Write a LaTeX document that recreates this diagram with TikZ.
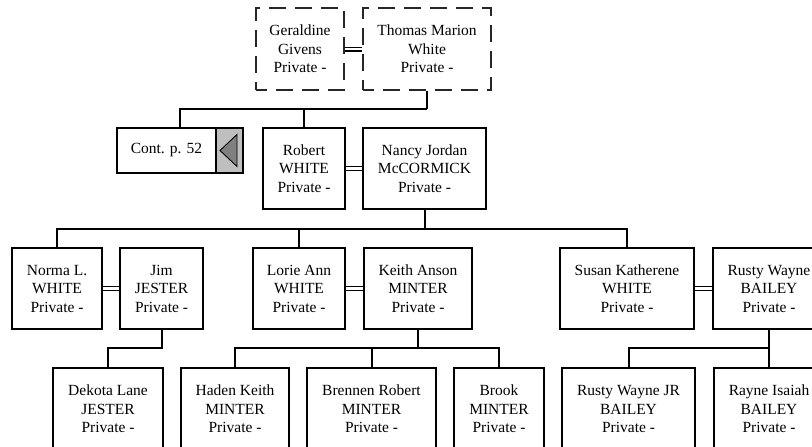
\documentclass[tikz,border=0pt]{standalone}
\usepackage{fontspec}
\setmainfont{Liberation Serif}
\begin{document}
\begin{tikzpicture}[x=1pt,y=-1pt,
  box/.style={draw, line width=2pt, fill=white, align=center, inner sep=0pt,
    font=\fontsize{15.5}{18.5}\selectfont},
  dbox/.style={box, line width=1.3pt, draw=black!85, dash pattern=on 17pt off 9pt, dash phase=6pt},
  conn/.style={line width=2pt},
  dbl/.style={double, double distance=2.2pt, line width=1.4pt}]
\useasboundingbox (0,0) rectangle (812,447);
\begin{scope}
\clip (0,0) rectangle (812,447);
% generation 1
\node[dbox, minimum width=88, minimum height=82] (ger) at (300,49) {Geraldine\\Givens\\Private -};
\node[dbox, minimum width=128, minimum height=82] (tho) at (427,49) {Thomas Marion\\White\\Private -};
% generation 2
\node[box, minimum width=126, minimum height=45] (cont) at (180,150.5) {Cont. p. 52\hspace*{27pt}};
\node[box, minimum width=82, minimum height=81] (rob) at (304,168.5) {Robert\\WHITE\\Private -};
\node[box, minimum width=123, minimum height=81] (nan) at (424.5,168.5) {Nancy Jordan\\McCORMICK\\Private -};
% generation 3
\node[box, minimum width=90, minimum height=81] (nor) at (57,288.5) {Norma L.\\WHITE\\Private -};
\node[box, minimum width=83, minimum height=81] (jim) at (161.5,288.5) {Jim\\JESTER\\Private -};
\node[box, minimum width=92, minimum height=81] (lor) at (299,288.5) {Lorie Ann\\WHITE\\Private -};
\node[box, minimum width=108, minimum height=81] (kei) at (418,288.5) {Keith Anson\\MINTER\\Private -};
\node[box, minimum width=134, minimum height=81] (sus) at (627,288.5) {Susan Katherene\\WHITE\\Private -};
\node[box, minimum width=112, minimum height=81] (rus) at (769,288.5) {Rusty Wayne\\BAILEY\\Private -};
% generation 4
\node[box, minimum width=110, minimum height=82] (dek) at (108,409) {Dekota Lane\\JESTER\\Private -};
\node[box, minimum width=108, minimum height=82] (had) at (235,409) {Haden Keith\\MINTER\\Private -};
\node[box, minimum width=129, minimum height=82] (bre) at (371.5,409) {Brennen Robert\\MINTER\\Private -};
\node[box, minimum width=90, minimum height=82] (bro) at (499,409) {Brook\\MINTER\\Private -};
\node[box, minimum width=133, minimum height=82] (rjr) at (628.5,409) {Rusty Wayne JR\\BAILEY\\Private -};
\node[box, minimum width=110, minimum height=82] (ray) at (769,409) {Rayne Isaiah\\BAILEY\\Private -};
% continuation button
\fill[black!25] ([shift={(-28pt,-1pt)}]cont.north east) rectangle ([shift={(-1pt,1pt)}]cont.south east);
\draw[line width=1.2pt] ([shift={(-28pt,-1pt)}]cont.north east) -- ([shift={(-28pt,1pt)}]cont.south east);
\draw[line width=2pt] ([shift={(1pt,-1pt)}]cont.north west) rectangle ([shift={(-1pt,1pt)}]cont.south east);
\path[fill=black!50, draw, line width=0.9pt] ([xshift=-24pt]cont.east) -- ([xshift=-7pt,yshift=16pt]cont.east) -- ([xshift=-7pt,yshift=-16pt]cont.east) -- cycle;
% marriages
\draw[dbl] (ger.east) -- (tho.west);
\draw[dbl] (rob.east) -- (nan.west);
\draw[dbl] (nor.east) -- (jim.west);
\draw[dbl] (lor.east) -- (kei.west);
\draw[dbl] (sus.east) -- (rus.west);
% descent lines
\coordinate (b1) at (0,109);
\coordinate (b2) at (0,229);
\coordinate (b3) at (0,348);
\draw[conn] (tho.south) -- (tho.south |- b1);
\draw[conn] (cont.north) |- (tho.south |- b1);
\draw[conn] (rob.north) -- (rob.north |- b1);
\draw[conn] (nan.south) -- (nan.south |- b2);
\draw[conn] (nor.north) |- (sus.north |- b2) -- (sus.north);
\draw[conn] (lor.north) -- (lor.north |- b2);
\draw[conn] (jim.south) |- (dek.north |- b3) -- (dek.north);
\draw[conn] (kei.south) -- (kei.south |- b3);
\draw[conn] (had.north) |- (bro.north |- b3) -- (bro.north);
\draw[conn] (bre.north) -- (bre.north |- b3);
\draw[conn] (rus.south) -- (ray.north);
\draw[conn] (rjr.north) |- (rus.south |- b3);
\end{scope}
\end{tikzpicture}
\end{document}
